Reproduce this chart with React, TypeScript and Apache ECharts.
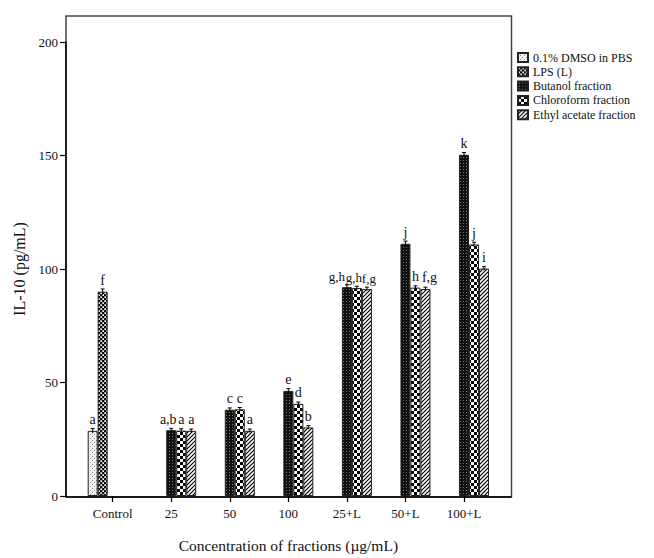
import React, { useEffect, useRef } from "react";
import * as echarts from "echarts";

const categories = ["Control", "25", "50", "100", "25+L", "50+L", "100+L"];
const seriesNames = [
  "0.1% DMSO in PBS",
  "LPS (L)",
  "Butanol fraction",
  "Chloroform fraction",
  "Ethyl acetate fraction",
];
const dmsoValues = [28.7, null, null, null, null, null, null];
const lpsValues = [90, null, null, null, null, null, null];
const butanolValues = [null, 29, 38, 46.3, 92, 111.1, 150.3];
const chloroformValues = [null, 28.8, 38.2, 40.6, 91.6, 91.8, 110.8];
const ethylValues = [null, 28.7, 28.7, 30.2, 91.2, 91.2, 100.2];

const dmsoErrors = [1, null, null, null, null, null, null];
const lpsErrors = [1.2, null, null, null, null, null, null];
const butanolErrors = [null, 0.8, 0.8, 1, 1, 1.2, 1];
const chloroformErrors = [null, 0.8, 0.8, 0.8, 0.8, 0.8, 1];
const ethylErrors = [null, 0.8, 0.8, 0.8, 0.8, 0.8, 0.8];

const dmsoLabels = ["a", "", "", "", "", "", ""];
const lpsLabels = ["f", "", "", "", "", "", ""];
const butanolLabels = ["", "a,b", "c", "e", "g,h", "j", "k"];
const chloroformLabels = ["", "a", "c", "d", "g,h", "h", "j"];
const ethylLabels = ["", "a", "a", "b", "f,g", "f,g", "i"];

const yTicks = [0, 50, 100, 150, 200];

const FONT = "Liberation Serif";
const BAR_W = 10;

// label horizontal nudges (style), keyed "series|category"
const labelNudge: Record<string, number> = {
  "2|1": -3,
  "2|4": -10,
  "3|4": -3,
  "4|4": 2,
  "4|5": 4,
};

function tile(w: number, h: number, draw: (c: CanvasRenderingContext2D) => void) {
  const cv = document.createElement("canvas");
  cv.width = w;
  cv.height = h;
  const ctx = cv.getContext("2d")!;
  draw(ctx);
  return { image: cv, repeat: "repeat" } as any;
}

function makePatterns() {
  const dmso = tile(4, 4, (c) => {
    c.fillStyle = "#f0f0f0";
    c.fillRect(0, 0, 4, 4);
    c.fillStyle = "#8a8a8a";
    c.fillRect(0, 0, 1, 1);
    c.fillRect(2, 2, 1, 1);
  });
  const lps = tile(4, 4, (c) => {
    c.fillStyle = "#000";
    c.fillRect(0, 0, 4, 4);
    c.fillStyle = "#fff";
    c.fillRect(0.3, 0.3, 1.8, 1.8);
    c.fillRect(2.3, 2.3, 1.8, 1.8);
  });
  const butanol = tile(3, 3, (c) => {
    c.fillStyle = "#111";
    c.fillRect(0, 0, 3, 3);
    c.fillStyle = "#777";
    c.fillRect(1, 1, 1, 1);
  });
  const chloro = tile(6, 6, (c) => {
    c.fillStyle = "#fff";
    c.fillRect(0, 0, 6, 6);
    c.fillStyle = "#000";
    c.fillRect(0, 0, 3, 3);
    c.fillRect(3, 3, 3, 3);
  });
  const ethyl = tile(4, 4, (c) => {
    c.fillStyle = "#fff";
    c.fillRect(0, 0, 4, 4);
    c.strokeStyle = "#000";
    c.lineWidth = 1.2;
    c.beginPath();
    c.moveTo(-1, 1);
    c.lineTo(1, -1);
    c.moveTo(0, 4);
    c.lineTo(4, 0);
    c.moveTo(3, 5);
    c.lineTo(5, 3);
    c.stroke();
  });
  return [dmso, lps, butanol, chloro, ethyl];
}

export default function App() {
  const ref = useRef<HTMLDivElement>(null);
  useEffect(() => {
    if (!ref.current) return;
    const chart = echarts.init(ref.current, null, { renderer: "svg" });
    const patterns = makePatterns();
    const values = [dmsoValues, lpsValues, butanolValues, chloroformValues, ethylValues];
    const errors = [dmsoErrors, lpsErrors, butanolErrors, chloroformErrors, ethylErrors];
    const labels = [dmsoLabels, lpsLabels, butanolLabels, chloroformLabels, ethylLabels];

    const barSeries = seriesNames.map((name, i) => ({
      name,
      type: "bar",
      barWidth: BAR_W,
      barGap: "0%",
      itemStyle: { color: patterns[i], borderColor: "#222", borderWidth: 1 },
      label: {
        show: true,
        position: "top",
        distance: 4,
        fontFamily: FONT,
        fontSize: 14,
        color: "#111",
        formatter: (p: any) => labels[i][p.dataIndex] || "",
      },
      data: values[i].map((v, j) => ({
        value: v === null ? "-" : v,
        label: {
          offset: [labelNudge[`${i}|${j}`] || 0, 0],
          fontSize: j === 4 ? 13 : 14,
          color: "#111",
        },
      })),
      z: 3,
    }));

    const errSeries = seriesNames.map((name, i) => ({
      name: name + " error",
      type: "custom",
      z: 4,
      data: values[i]
        .map((v, j) => (v === null ? null : [j, v, errors[i][j]]))
        .filter((d) => d !== null),
      renderItem: (_p: any, api: any) => {
        const c = api.value(0);
        const v = api.value(1);
        const e = api.value(2);
        const top = api.coord([c, v + e]);
        const bot = api.coord([c, v - e]);
        const x = top[0] + (i - 2) * BAR_W;
        const st = { stroke: "#000", lineWidth: 1 };
        return {
          type: "group",
          children: [
            { type: "line", shape: { x1: x, y1: top[1], x2: x, y2: bot[1] }, style: st },
            { type: "line", shape: { x1: x - 2, y1: top[1], x2: x + 2, y2: top[1] }, style: st },
          ],
        };
      },
    }));

    chart.setOption({
      animation: false,
      backgroundColor: "#fff",
      textStyle: { fontFamily: FONT },
      grid: { left: 83.4, right: 160.7, top: 42, bottom: 61 },
      legend: {
        data: seriesNames,
        orient: "vertical",
        left: 512,
        top: 45.5,
        itemWidth: 10,
        itemHeight: 9,
        itemGap: 0.3,
        icon: "rect",
        textStyle: { fontFamily: FONT, fontSize: 12, color: "#111", lineHeight: 14 },
        selectedMode: false,
      },
      xAxis: {
        type: "category",
        data: categories,
        boundaryGap: true,
        axisLine: { show: false },
        axisTick: { show: true, alignWithLabel: true, length: 6, lineStyle: { color: "#000", width: 1.2 } },
        axisLabel: { fontFamily: FONT, fontSize: 13, color: "#111", margin: 11 },
        name: "Concentration of fractions (\u00b5g/mL)",
        nameLocation: "middle",
        nameGap: 41,
        nameTextStyle: { fontFamily: FONT, fontSize: 15.5, color: "#111" },
        splitLine: { show: false },
      },
      yAxis: {
        type: "value",
        min: yTicks[0],
        max: yTicks[yTicks.length - 1],
        interval: yTicks[1] - yTicks[0],
        offset: 17.4,
        axisLine: { show: true, lineStyle: { color: "#000", width: 1.5 } },
        axisTick: { show: true, length: 6, lineStyle: { color: "#000", width: 1.2 } },
        axisLabel: { fontFamily: FONT, fontSize: 13, color: "#111", margin: 8 },
        splitLine: { show: false },
        name: "IL-10 (pg/mL)",
        nameLocation: "middle",
        nameGap: 36,
        nameTextStyle: { fontFamily: FONT, fontSize: 16, color: "#111" },
      },
      graphic: [
        {
          type: "rect",
          silent: true,
          z: 0,
          shape: { x: 66, y: 16, width: 445.5, height: 481 },
          style: { fill: "none", stroke: "#444", lineWidth: 1.5 },
        },
        {
          type: "line",
          silent: true,
          z: 10,
          shape: { x1: 66, y1: 497, x2: 511.5, y2: 497 },
          style: { stroke: "#000", lineWidth: 1.5 },
        },
      ],
      series: [...barSeries, ...errSeries],
    });
    return () => chart.dispose();
  }, []);
  return (
    <div
      ref={ref}
      style={{ position: "fixed", left: 0, top: 0, width: 654, height: 558, background: "#fff" }}
    />
  );
}
